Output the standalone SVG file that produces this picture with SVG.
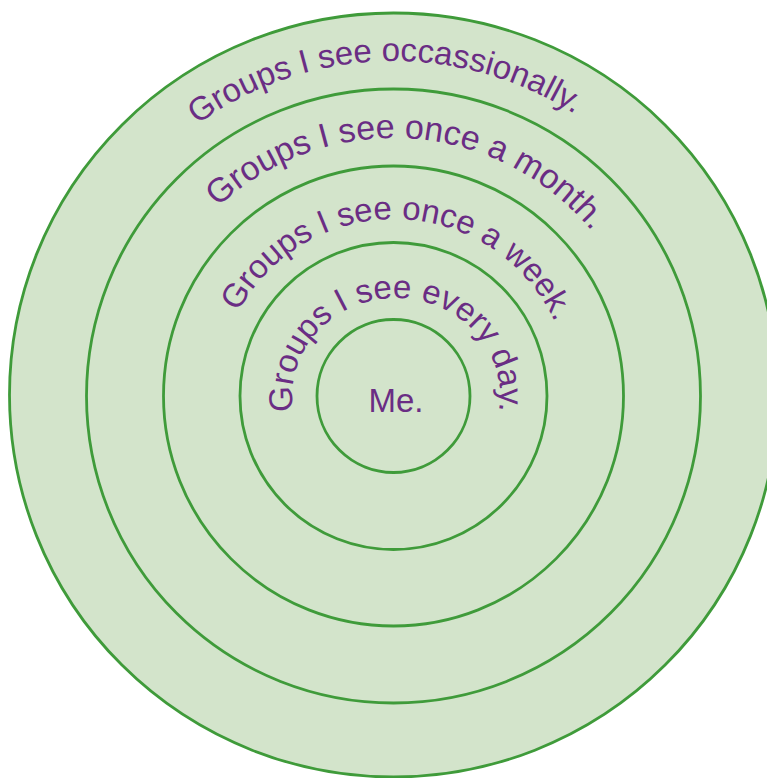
<svg xmlns="http://www.w3.org/2000/svg" xmlns:xlink="http://www.w3.org/1999/xlink" width="767" height="778" viewBox="0 0 767 778">
  <style>
    .ring { fill: none; stroke: #3f9b3a; stroke-width: 2.8; }
    .outer { fill: #d3e4cb; stroke: #3f9b3a; stroke-width: 2.8; }
    .lbl { font-family: "Liberation Sans", Arial, sans-serif; fill: #6a2d84; }
  </style>
  <defs>
    <path id="p-occ" d="M393.5,731 A335,335 0 1 1 393.5,61 A335,335 0 1 1 393.5,731"/>
    <path id="p-month" d="M393.5,654 A258,258 0 1 1 393.5,138 A258,258 0 1 1 393.5,654"/>
    <path id="p-week" d="M394,573 A177,177 0 1 1 394,219 A177,177 0 1 1 394,573"/>
    <path id="p-day" d="M396,494 A104,98 0 1 1 396,298 A104,98 0 1 1 396,494"/>
  </defs>
  <rect width="767" height="778" fill="#ffffff"/>
  <g id="ring-occasionally">
    <ellipse class="outer" cx="393.5" cy="395" rx="384" ry="382"/>
    <text class="lbl" font-size="33" text-anchor="middle"><textPath xlink:href="#p-occ" href="#p-occ" startOffset="1042.8">Groups I see occassionally.</textPath></text>
  </g>
  <g id="ring-month">
    <circle class="ring" cx="393.5" cy="396" r="307"/>
    <text class="lbl" font-size="34" text-anchor="middle"><textPath xlink:href="#p-month" href="#p-month" startOffset="826.7">Groups I see once a month.</textPath></text>
  </g>
  <g id="ring-week">
    <circle class="ring" cx="393.5" cy="396" r="230"/>
    <text class="lbl" font-size="33" text-anchor="middle"><textPath xlink:href="#p-week" href="#p-week" startOffset="561.5">Groups I see once a week.</textPath></text>
  </g>
  <g id="ring-day">
    <circle class="ring" cx="393.5" cy="396" r="153.5"/>
    <text class="lbl" font-size="33" text-anchor="middle"><textPath xlink:href="#p-day" href="#p-day" startOffset="50%">Groups I see every day.</textPath></text>
  </g>
  <g id="me">
    <circle class="ring" cx="393.5" cy="396" r="76.5"/>
    <text class="lbl" font-size="33" x="396" y="412" text-anchor="middle">Me.</text>
  </g>
</svg>
